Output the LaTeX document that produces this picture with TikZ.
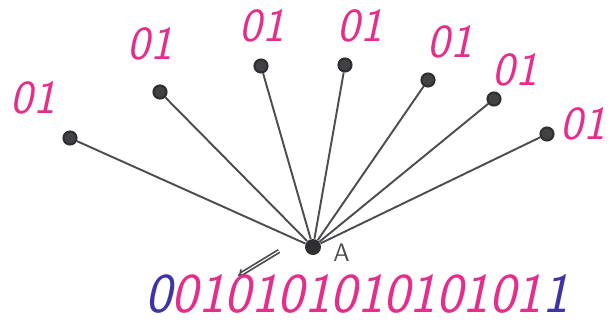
\documentclass[tikz,border=0pt]{standalone}
\usepackage{tikz}
\usetikzlibrary{arrows.meta,positioning}
\definecolor{digpink}{RGB}{228,45,140}
\definecolor{digblue}{RGB}{62,52,168}
\definecolor{pencil}{RGB}{78,76,80}

\begin{document}
\begin{tikzpicture}[
  leaf/.style={circle, draw=pencil!60!black, fill=pencil!85!black, line width=1.2pt,
               minimum size=0.26cm, inner sep=0pt},
  hubdot/.style={circle, fill=pencil!60!black, minimum size=0.32cm, inner sep=0pt},
  bits/.style={font=\fontsize{27}{27}\selectfont\sffamily\itshape, text=digpink},
  wire/.style={color=pencil, line width=1.1pt}
]
\useasboundingbox (0,0) rectangle (12.28,6.54);
% ── Hub ───────────────────────────────
\node[hubdot] (hub) at (6.26, 1.60) {};
\node[font=\Large\sffamily, text=pencil, inner sep=1pt, right=0.2cm of hub, yshift=-0.12cm] (alab) {A};
% ── Leaves and labels ─────────────────
\node[leaf] (l1) at (1.40, 3.78) {};
\node[leaf] (l2) at (3.20, 4.70) {};
\node[leaf] (l3) at (5.22, 5.22) {};
\node[leaf] (l4) at (6.90, 5.24) {};
\node[leaf] (l5) at (8.56, 4.94) {};
\node[leaf] (l6) at (9.88, 4.56) {};
\node[leaf] (l7) at (10.94, 3.86) {};
\node[bits] (b1) at (0.66, 4.58) {01};
\node[bits] (b2) at (3.00, 5.66) {01};
\node[bits] (b3) at (5.24, 6.02) {01};
\node[bits] (b4) at (7.20, 6.02) {01};
\node[bits] (b5) at (9.00, 5.70) {01};
\node[bits] (b6) at (10.30, 5.14) {01};
\node[bits] (b7) at (11.66, 4.06) {01};
% ── Wires ─────────────────────────────
\foreach \i in {1,...,7}
  \draw[wire] (hub) -- (l\i);
% ── Arrow and bit string ──────────────
\coordinate (afrom) at (5.58, 1.52);
\coordinate (ato) at (4.76, 1.02);
\draw[pencil, double, line width=1pt, -{Implies}] (afrom) -- (ato);
\node[bits, font=\fontsize{32}{32}\selectfont\sffamily\itshape, inner sep=0pt] (word) at (7.14, 0.66)
  {{\color{digblue}0}01010101010101{\color{digblue}1}};
\end{tikzpicture}
\end{document}
